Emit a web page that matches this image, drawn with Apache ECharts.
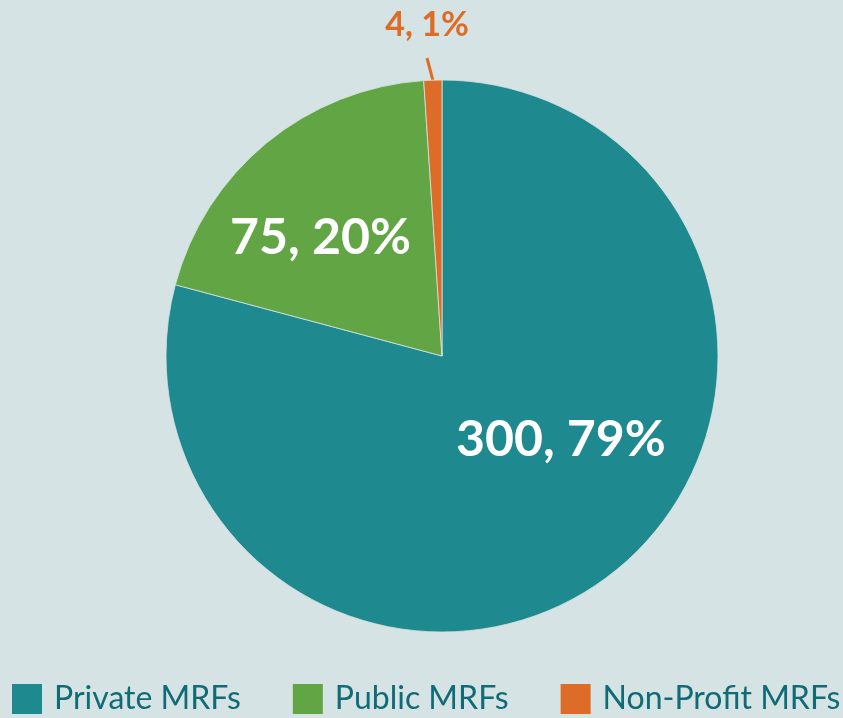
<!DOCTYPE html>
<html>
<head>
<meta charset="utf-8">
<script src="https://cdn.jsdelivr.net/npm/echarts@6/dist/echarts.min.js"></script>
<style>
html,body{margin:0;padding:0;background:#d6e3e4;}
#c{width:843px;height:718px;}
</style>
</head>
<body>
<div id="c"></div>
<script>
const categories = ["Private MRFs", "Public MRFs", "Non-Profit MRFs"];
const values = [300, 75, 4];
const percentLabels = ["79%", "20%", "1%"];

const colors = ["#1e8a8f", "#62a545", "#dc6c28"];
const labelShift = [[33, -28], [-32, -9], [0, 0]];

const chart = echarts.init(document.getElementById('c'));
const data = categories.map((n, i) => {
  const item = { name: n, value: values[i], itemStyle: { color: colors[i] } };
  if (i === 2) {
    item.label = {
      position: 'outside',
      formatter: '{t|' + values[i] + ', ' + percentLabels[i] + '}\n{g| }',
      rich: {
        t: { color: '#dc6c28', fontSize: 34, fontFamily: 'Lato', fontWeight: 'bold', lineHeight: 38 },
        g: { fontSize: 1, lineHeight: 14, height: 14 }
      }
    };
    item.labelLine = { show: true, length: 20, length2: 0, lineStyle: { color: '#dc6c28', width: 3 } };
  } else {
    item.label = { formatter: values[i] + ', ' + percentLabels[i] };
  }
  return item;
});

chart.setOption({
  backgroundColor: '#d6e3e4',
  animation: false,
  legend: {
    left: 10, bottom: 2, padding: 0, width: 833,
    itemWidth: 32, itemHeight: 32, itemGap: 50,
    icon: 'rect',
    textStyle: { fontFamily: 'Lato', fontSize: 32, color: '#0f6b76', padding: [0, 0, 0, 6] },
    data: categories
  },
  series: [{
    type: 'pie',
    center: [442, 356],
    radius: [0, 276],
    startAngle: 90,
    clockwise: true,
    avoidLabelOverlap: false,
    itemStyle: { borderColor: '#d6e3e4', borderWidth: 0.8 },
    label: {
      show: true, position: 'inside',
      fontFamily: 'Lato', fontWeight: 'bold', fontSize: 50, color: '#ffffff'
    },
    labelLine: { show: false },
    labelLayout: function (p) {
      if (p.dataIndex === 2) {
        return { x: 427, y: 6, align: 'center', verticalAlign: 'top' };
      }
      return { dx: labelShift[p.dataIndex][0], dy: labelShift[p.dataIndex][1] };
    },
    data: data
  }]
});
</script>
</body>
</html>
